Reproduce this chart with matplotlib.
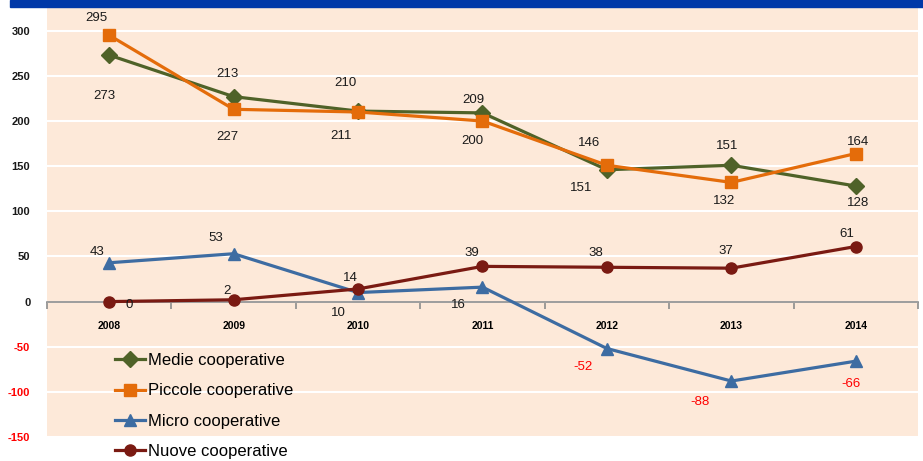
import matplotlib.pyplot as plt
from matplotlib.patches import Rectangle

plt.rcParams['font.family'] = ['Liberation Sans', 'DejaVu Sans']
plt.rcParams['axes.unicode_minus'] = False

years = ['2008', '2009', '2010', '2011', '2012', '2013', '2014']
medie = [273, 227, 211, 209, 146, 151, 128]
piccole = [295, 213, 210, 200, 151, 132, 164]
micro = [43, 53, 10, 16, -52, -88, -66]
nuove = [0, 2, 14, 39, 38, 37, 61]

# label offsets in pixels (dx, dy), as placed in the original
off_medie = [(-5, -41), (-6, -40), (-17, -25), (-9, 13), (-18, 27), (-4, 19), (2, -17)]
off_piccole = [(-13, 17), (-6, 35), (-13, 29), (-10, -20), (-26, -23), (-7, -19), (2, 12)]
off_micro = [(-12, 11), (-18, 16), (-20, -20), (-24, -18), (-24, -18), (-31, -21), (-5, -23)]
off_nuove = [(20, -3), (-7, 9), (-8, 11), (-11, 13), (-11, 14), (-6, 17), (-9, 13)]

fig = plt.figure(figsize=(9.23, 4.61), dpi=100)
ax = fig.add_axes([47/923, 1-437/461, 871/923, 430/461])
ax.set_facecolor('#FDE9D9')
fig.patches.append(Rectangle((10/923, 1-7/461), 1, 7/461, transform=fig.transFigure,
                             color='#0038A8', zorder=0))

x = list(range(len(years)))
series = [
    ('Medie cooperative', medie, '#4F6228', 'D', 8, off_medie),
    ('Piccole cooperative', piccole, '#E46C0A', 's', 9, off_piccole),
    ('Micro cooperative', micro, '#3D6CA2', '^', 9, off_micro),
    ('Nuove cooperative', nuove, '#7A1A12', 'o', 8, off_nuove),
]
for name, vals, col, mk, ms, offs in series:
    ax.plot(x, vals, color=col, marker=mk, markersize=ms, lw=2.3, label=name, zorder=3)
    for xi, v, o in zip(x, vals, offs):
        ax.annotate(str(v), (xi, v), xytext=o, textcoords='offset pixels',
                    ha='center', va='center', fontsize=9.5,
                    color='#FF0000' if v < 0 else '#1A1A1A', zorder=4)

ax.set_xlim(-0.5, 6.5)
ax.set_ylim(-150, 326.3)
ax.set_yticks(range(-150, 301, 50))
ax.yaxis.grid(True, color='white', lw=1.5)
ax.set_axisbelow(True)
for s in ['top', 'right', 'left']:
    ax.spines[s].set_visible(False)
ax.spines['bottom'].set_position(('data', 0))
ax.spines['bottom'].set_color('#8C8C8C')
ax.spines['bottom'].set_linewidth(1.2)
ax.spines['bottom'].set_zorder(2)

ax.set_xticks(x)
ax.set_xticklabels(years, fontsize=7.5, fontweight='bold')
ax.tick_params(axis='x', which='major', length=0, pad=14)
ax.set_xticks([i + 0.5 for i in range(-1, 7)], minor=True)
ax.tick_params(axis='x', which='minor', length=5, color='#8C8C8C', width=1.2)
ax.tick_params(axis='y', length=0, pad=12)
for lab, t in zip(ax.get_yticklabels(), ax.get_yticks()):
    lab.set_fontsize(8)
    lab.set_fontweight('bold')
    lab.set_color('#FF0000' if t < 0 else '#1A1A1A')

leg = ax.legend(loc='upper left', bbox_to_anchor=(100/923, 1-338/461),
                bbox_transform=fig.transFigure, frameon=False, fontsize=12,
                labelspacing=0.92, handlelength=1.8, handletextpad=0.15)

fig.savefig('out.png', dpi=100)
